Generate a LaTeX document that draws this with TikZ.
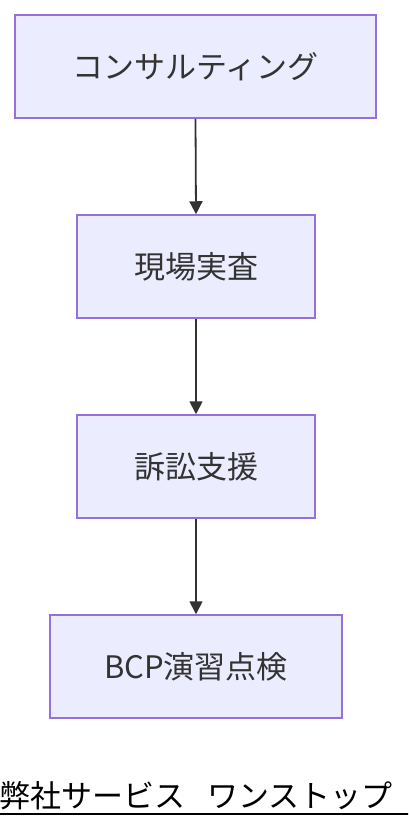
\documentclass[tikz,border=0pt]{standalone}
\usepackage{fontspec}
\setmainfont{Noto Sans CJK JP}
\newfontfamily\cjk{Noto Sans CJK JP}
\usetikzlibrary{arrows.meta}
\definecolor{boxfill}{HTML}{ECECFF}
\definecolor{boxline}{HTML}{9370DB}
\definecolor{ink}{HTML}{333333}
\tikzset{
  flowbox/.style={draw=boxline, fill=boxfill, line width=1.5pt, inner sep=0pt, text=ink, font=\cjk\fontsize{31}{36}\selectfont},
  flowarrow/.style={draw=ink, line width=1.8pt, -{Triangle[length=13pt,width=13pt]}}
}
\begin{document}
\begin{tikzpicture}[x=1pt,y=-1pt]
\useasboundingbox (0,0) rectangle (408,828);
\node[flowbox, minimum width=361pt, minimum height=103pt] (a) at (195.5,66.5) {コンサルティング};
\node[flowbox, minimum width=238pt, minimum height=103pt] (b) at (196,266.5) {現場実査};
\node[flowbox, minimum width=238pt, minimum height=103pt] (c) at (196,466.5) {訴訟支援};
\node[flowbox, minimum width=292pt, minimum height=103pt] (d) at (196,666.5) {BCP演習点検};
\draw[flowarrow] (a.south) -- (b.north);
\draw[flowarrow] (b.south) -- (c.north);
\draw[flowarrow] (c.south) -- (d.north);
\begin{scope}
\clip (0,0) rectangle (408,828);
\node[anchor=base west, inner sep=0pt, text=black, font=\cjk\fontsize{31}{36}\selectfont] (t) at (-1,807) {弊社サービス\hspace{22pt}ワンストップ};
\coordinate (ul) at (0,813.5);
\draw[line width=2pt, black] (ul) -- ++(420,0);
\end{scope}
\end{tikzpicture}
\end{document}
